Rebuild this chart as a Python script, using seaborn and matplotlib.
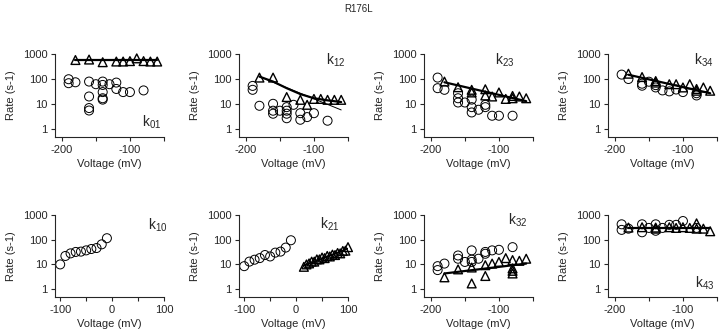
import matplotlib
matplotlib.use("Agg")
import matplotlib.pyplot as plt
import seaborn as sns

sns.set_style("ticks")
plt.rcParams['font.family'] = ['Liberation Sans', 'DejaVu Sans']
plt.rcParams['axes.unicode_minus'] = False
plt.rcParams['mathtext.fontset'] = 'custom'
plt.rcParams['mathtext.rm'] = 'Liberation Sans'

# ---------------- data ----------------
# k01
k01_circ_v = [-190, -190, -180, -160, -160, -160, -160, -150, -140, -140, -140, -140, -140, -130, -120, -120, -110, -100, -80]
k01_circ_k = [98, 68, 74, 79, 20, 6.9, 5.5, 62, 79, 58, 30, 17, 15, 62, 72, 40, 30, 30, 35]
k01_tri_v = [-180, -160, -140, -120, -110, -100, -90, -80, -70, -60]
k01_tri_k = [575, 600, 470, 500, 500, 520, 670, 520, 500, 500]
k01_fit_v = [-180, -60]
k01_fit_k = [550, 550]

# k12
k12_circ_v = [-190, -190, -180, -160, -160, -160, -150, -140, -140, -140, -140, -130, -120, -120, -110, -100, -80]
k12_circ_k = [53, 37, 8.5, 10.2, 5.4, 4.1, 5.4, 7.5, 5.4, 4.1, 2.7, 9.3, 4.3, 2.35, 3.0, 4.3, 2.15]
k12_tri_v = [-180, -160, -140, -120, -110, -100, -90, -80, -70, -60]
k12_tri_k = [114, 114, 19, 14.7, 9.3, 16, 16, 14.7, 14.7, 14.7]
k12_fit_v = [-180, -160, -140, -120, -100, -80, -60]
k12_fit_k = [125, 79, 43, 25, 17, 14, 12]
k12_fit2_v = [-180, -60]
k12_fit2_k = [125, 5.8]

# k23
k23_circ_v = [-190, -190, -180, -160, -160, -160, -150, -140, -140, -140, -130, -120, -120, -110, -100, -80]
k23_circ_k = [114, 43, 37, 27, 17, 11.5, 11.5, 15, 7.5, 4.6, 5.9, 9.3, 7.5, 3.4, 3.4, 3.4]
k23_tri_v = [-180, -160, -140, -140, -120, -120, -110, -100, -90, -80, -80, -70, -60]
k23_tri_k = [79, 47, 37, 29, 39, 22, 20, 29, 16, 21, 17, 20, 17]
k23_fit_v = [-180, -60]
k23_fit_k = [74, 13]

# k34
k34_circ_v = [-190, -180, -160, -160, -150, -140, -140, -130, -120, -110, -100, -80, -80]
k34_circ_k = [150, 100, 54, 65, 78, 57, 46, 35, 32, 38, 30, 27, 22]
k34_tri_v = [-180, -160, -140, -140, -120, -110, -100, -90, -80, -80, -70, -60]
k34_tri_k = [163, 120, 83, 72, 62, 62, 46, 62, 40, 34, 46, 34]
k34_fit_v = [-180, -60]
k34_fit_k = [148, 27]

# k10
k10_circ_v = [-100, -90, -80, -70, -60, -50, -40, -30, -20, -10]
k10_circ_k = [10, 22, 28, 32, 33, 37, 42, 46, 65, 115]

# k21
k21_circ_v = [-100, -90, -80, -70, -60, -50, -40, -30, -20, -10]
k21_circ_k = [8.5, 13, 15.5, 18, 24, 21, 30, 33, 48, 95]
k21_tri_v = [20, 30, 40, 50, 60, 70, 80, 90, 100, 15, 25, 35, 45, 55, 65, 75, 85, 95]
k21_tri_k = [10, 13, 16, 19, 22, 25, 29, 35, 50, 8, 11, 13, 16, 18, 21, 24, 28, 36]
k21_fit_v = [15, 100]
k21_fit_k = [9, 44]

# k32
k32_circ_v = [-190, -190, -180, -160, -160, -150, -140, -140, -140, -130, -120, -120, -110, -100, -80]
k32_circ_k = [8.5, 5.9, 10.8, 23, 17, 12.6, 37, 15.6, 12.6, 17, 32, 27, 37, 39, 50]
k32_tri_v = [-180, -160, -140, -140, -120, -120, -110, -100, -90, -80, -80, -80, -80, -70, -60]
k32_tri_k = [3.0, 6.3, 7.5, 1.7, 9.3, 3.4, 10.8, 12.6, 18, 15, 6.9, 5.5, 4.3, 14, 17]
k32_fit_v = [-180, -60]
k32_fit_k = [4.3, 10.8]

# k43
k43_circ_v = [-190, -190, -180, -160, -160, -150, -140, -140, -130, -120, -110, -100, -80]
k43_circ_k = [420, 250, 280, 420, 200, 300, 420, 230, 300, 400, 400, 570, 300]
k43_tri_v = [-180, -160, -140, -140, -120, -110, -100, -90, -80, -80, -70, -60]
k43_tri_k = [310, 320, 310, 280, 320, 300, 320, 300, 460, 280, 280, 220]
k43_fit_v = [-180, -60]
k43_fit_k = [310, 310]

title = "R176L"
ylabel = "Rate (s-1)"
xlabel = "Voltage (mV)"
y_ticks = [1, 10, 100, 1000]
y_ticklabels = ["1", "10", "100", "1000"]
neg_ticks = [-200, -150, -100, -50]
neg_ticklabels = ["-200", "", "-100", ""]
pos_ticks = [-100, -50, 0, 50, 100]
pos_ticklabels = ["-100", "", "0", "", "100"]

panels = [
    dict(name="01", circ=(k01_circ_v, k01_circ_k), tri=(k01_tri_v, k01_tri_k),
         fits=[(k01_fit_v, k01_fit_k, 1.6)], lab=(0.80, 0.18), row=0, col=0, rng="neg"),
    dict(name="12", circ=(k12_circ_v, k12_circ_k), tri=(k12_tri_v, k12_tri_k),
         fits=[(k12_fit_v, k12_fit_k, 1.6), (k12_fit2_v, k12_fit2_k, 0.7)], lab=(0.80, 0.92), row=0, col=1, rng="neg"),
    dict(name="23", circ=(k23_circ_v, k23_circ_k), tri=(k23_tri_v, k23_tri_k),
         fits=[(k23_fit_v, k23_fit_k, 1.6)], lab=(0.65, 0.92), row=0, col=2, rng="neg"),
    dict(name="34", circ=(k34_circ_v, k34_circ_k), tri=(k34_tri_v, k34_tri_k),
         fits=[(k34_fit_v, k34_fit_k, 1.6)], lab=(0.79, 0.93), row=0, col=3, rng="neg"),
    dict(name="10", circ=(k10_circ_v, k10_circ_k), tri=None,
         fits=[], lab=(0.85, 0.87), row=1, col=0, rng="pos"),
    dict(name="21", circ=(k21_circ_v, k21_circ_k), tri=(k21_tri_v, k21_tri_k),
         fits=[(k21_fit_v, k21_fit_k, 1.2)], lab=(0.74, 0.89), row=1, col=1, rng="pos"),
    dict(name="32", circ=(k32_circ_v, k32_circ_k), tri=(k32_tri_v, k32_tri_k),
         fits=[(k32_fit_v, k32_fit_k, 1.6)], lab=(0.77, 0.93), row=1, col=2, rng="neg"),
    dict(name="43", circ=(k43_circ_v, k43_circ_k), tri=(k43_tri_v, k43_tri_k),
         fits=[(k43_fit_v, k43_fit_k, 1.6)], lab=(0.80, 0.17), row=1, col=3, rng="neg"),
]

fig = plt.figure(figsize=(7.2, 3.34), dpi=100)
lefts = [55 / 720, 239 / 720, 424 / 720, 608 / 720]
width = 109 / 720
rows = [(1 - 137 / 334, 83 / 334), (1 - 297 / 334, 82 / 334)]

for p in panels:
    b, h = rows[p["row"]]
    ax = fig.add_axes([lefts[p["col"]], b, width, h])
    ax.set_yscale("log")
    cv, ck = p["circ"]
    sns.scatterplot(x=cv, y=ck, marker="o", s=42, facecolors="none",
                    edgecolor="black", linewidth=0.7, ax=ax, zorder=2, clip_on=False)
    if p["tri"] is not None:
        tv, tk = p["tri"]
        sns.scatterplot(x=tv, y=tk, marker="^", s=40, facecolors="none",
                        edgecolor="black", linewidth=1.0, ax=ax, zorder=3, clip_on=False)
    for fv, fk, lw in p["fits"]:
        sns.lineplot(x=fv, y=fk, color="black", linewidth=lw, ax=ax, zorder=4)
    ax.set_ylim(0.48, 1000)
    ax.set_yticks(y_ticks)
    ax.set_yticklabels(y_ticklabels)
    ax.minorticks_off()
    if p["rng"] == "neg":
        ax.set_xlim(-210, -50)
        ax.set_xticks(neg_ticks)
        ax.set_xticklabels(neg_ticklabels)
    else:
        ax.set_xlim(-110, 100)
        ax.set_xticks(pos_ticks)
        ax.set_xticklabels(pos_ticklabels)
    ax.tick_params(labelsize=8, length=3, width=0.8, pad=2.5)
    for s in ["left", "bottom"]:
        ax.spines[s].set_linewidth(0.8)
    sns.despine(ax=ax)
    ax.set_xlabel(xlabel, fontsize=8, labelpad=3)
    ax.set_ylabel(ylabel, fontsize=8, labelpad=5)
    ax.text(p["lab"][0], p["lab"][1], r"$\mathregular{k_{%s}}$" % p["name"],
            transform=ax.transAxes, fontsize=10, ha="left", va="center")

fig.text(359 / 720, 1 - 9 / 334, title, ha="center", va="center", fontsize=7)
fig.savefig("out.png", dpi=100)
